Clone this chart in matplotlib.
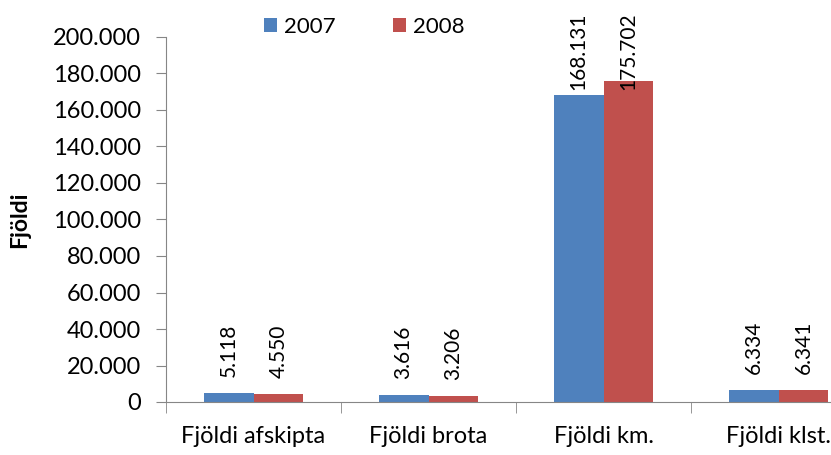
import matplotlib
matplotlib.use("Agg")
import matplotlib.pyplot as plt
import numpy as np
from matplotlib.ticker import FuncFormatter, FixedLocator

categories = ["Fjöldi afskipta", "Fjöldi brota", "Fjöldi km.", "Fjöldi klst."]
series_names = ["2007", "2008"]
values_2007 = [5118, 3616, 168131, 6334]
values_2008 = [4550, 3206, 175702, 6341]
colors = ["#4F81BD", "#C0504D"]

plt.rcParams['font.family'] = ['Lato', 'DejaVu Sans']

DPI = 100
fig = plt.figure(figsize=(8.31, 4.55), dpi=DPI)
ax = fig.add_axes([166/831, 53/455, 700/831, 365/455])

def fmt(v):
    return f"{int(round(v)):,}".replace(",", ".")

x = np.arange(len(categories))
w = 0.2857
bars1 = ax.bar(x - w/2, values_2007, w, color=colors[0], label=series_names[0])
bars2 = ax.bar(x + w/2, values_2008, w, color=colors[1], label=series_names[1])

off_pts = 11.5
labels = []
for bars, vals in ((bars1, values_2007), (bars2, values_2008)):
    for b, v in zip(bars, vals):
        t = ax.annotate(fmt(v), (b.get_x() + b.get_width()/2, v), xytext=(0, off_pts),
                        textcoords="offset points", rotation=90, ha="center", va="bottom",
                        fontsize=15, color="black", annotation_clip=False)
        labels.append(t)

ax.set_xlim(-0.5, 3.5)
ax.set_ylim(0, 200000)
ax.set_yticks(np.arange(0, 200001, 20000))
ax.yaxis.set_major_formatter(FuncFormatter(lambda v, p: fmt(v)))
ax.tick_params(axis='y', labelsize=17, length=7, color="#868686", pad=11)

ax.set_xticks(x)
ax.set_xticklabels(categories, fontsize=17)
ax.tick_params(axis='x', length=0, pad=17)
ax.xaxis.set_minor_locator(FixedLocator(np.arange(-0.5, 4.0, 1.0)))
ax.tick_params(axis='x', which='minor', length=8, color="#868686")

for s in ["top", "right"]:
    ax.spines[s].set_visible(False)
for s in ["left", "bottom"]:
    ax.spines[s].set_color("#868686")

ax.set_ylabel("Fjöldi", fontsize=16.5, fontweight="bold")
ax.yaxis.set_label_coords((30 - 166) / 700, 0.5)

fig.legend(loc="upper left", bbox_to_anchor=(247/831, 1.0), ncol=2, frameon=False,
           fontsize=16, handlelength=0.6, handleheight=0.6, columnspacing=2.6,
           handletextpad=0.3, borderaxespad=0.35)

# keep data labels inside the chart area (top limit like the reference)
fig.canvas.draw()
r = fig.canvas.get_renderer()
top_limit = 455 - 12
for t in labels:
    bb = t.get_window_extent(r)
    if bb.y1 > top_limit:
        shift_pts = (bb.y1 - top_limit) * 72 / DPI
        t.set_position((0, off_pts - shift_pts))

fig.savefig("out.png", dpi=DPI)
